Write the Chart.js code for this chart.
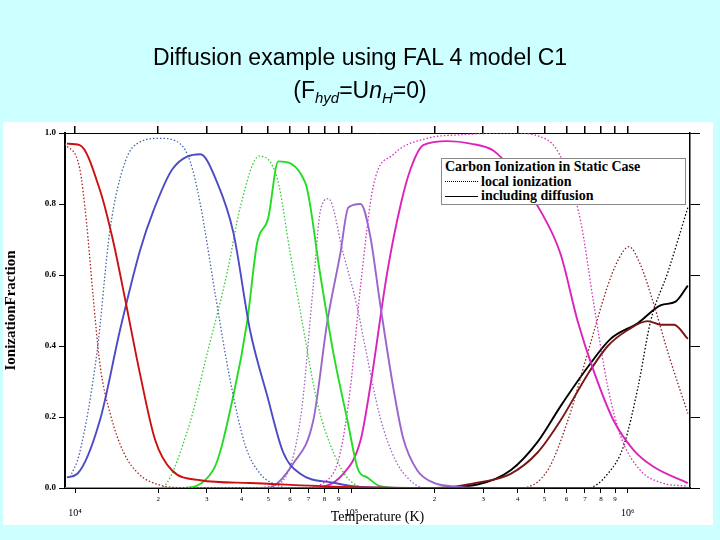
<!DOCTYPE html>
<html>
<head>
<meta charset="utf-8">
<script src="https://cdn.jsdelivr.net/npm/chart.js@4.4.0/dist/chart.umd.min.js"></script>
<style>
  body { margin: 0; background: #ccffff; }
  #wrap { position: relative; width: 720px; height: 540px; overflow: hidden; }
  canvas { position: absolute; left: 0; top: 0; }
  #title { position: absolute; left: 0; top: 41px; width: 720px; text-align: center;
    font-family: Arial, "Liberation Sans", sans-serif; font-size: 23px; line-height: 33px; color: #000; }
  #title sub { font-size: 15px; vertical-align: -5px; line-height: 0; }
  #legend { position: absolute; left: 441px; top: 158px; width: 245px; height: 47px;
    border: 1px solid #888; background: #fff; font-family: "Liberation Serif", serif;
    font-weight: bold; font-size: 14px; line-height: 14.5px; padding: 1px 3px; box-sizing: border-box; white-space: nowrap; }
  .row { display: flex; align-items: center; }
  .sw { width: 33px; margin-right: 3px; height: 0; }
  .dot { border-top: 1.5px dotted #000; }
  .sol { border-top: 1.5px solid #000; }
</style>
</head>
<body>
<div id="wrap">
  <canvas id="c" width="720" height="540"></canvas>
  <div id="title">Diffusion example using FAL 4 model C1<br>(F<sub><i>hyd</i></sub>=U<i>n</i><sub><i>H</i></sub>=0)</div>
  <div id="legend">
    <div>Carbon Ionization in Static Case</div>
    <div class="row"><span class="sw dot"></span>local ionization</div>
    <div class="row"><span class="sw sol"></span>including diffusion</div>
  </div>
</div>
<script>
// temperatures (K) and ionization fractions
const c1LocalT = [9200, 10400, 11000, 11600, 12300, 13400, 15000, 17000, 20300, 25000, 1680000];
const c1LocalY = [0.97, 0.90, 0.75, 0.55, 0.35, 0.21, 0.10, 0.04, 0.008, 0.001, 0];
const c1DiffT = [9350, 10400, 12300, 13700, 15200, 17200, 19500, 22400, 28400, 43100, 94000, 200000, 1680000];
const c1DiffY = [0.97, 0.966, 0.84, 0.70, 0.53, 0.32, 0.135, 0.05, 0.022, 0.014, 0.003, 0, 0];

const c2LocalT = [9600, 10400, 12000, 13400, 15200, 17200, 20300, 24000, 26100, 28400, 32100, 36500, 41300, 46800, 53100, 60000, 1680000];
const c2LocalY = [0.03, 0.10, 0.38, 0.73, 0.92, 0.975, 0.985, 0.97, 0.92, 0.80, 0.55, 0.30, 0.12, 0.04, 0.01, 0, 0];
const c2DiffT = [9350, 10200, 12300, 14600, 17200, 19200, 22600, 28400, 32700, 37400, 43100, 49600, 56700, 65300, 86100, 108000, 200000, 1680000];
const c2DiffY = [0.03, 0.04, 0.19, 0.45, 0.67, 0.78, 0.90, 0.94, 0.86, 0.72, 0.44, 0.26, 0.10, 0.04, 0.015, 0.003, 0, 0];

const c3LocalT = [9200, 20300, 25500, 30100, 35600, 39600, 46400, 54000, 60100, 67000, 75300, 86100, 99100, 120000, 1680000];
const c3LocalY = [0, 0, 0.16, 0.38, 0.61, 0.79, 0.935, 0.87, 0.66, 0.45, 0.24, 0.10, 0.02, 0, 0];
const c3DiffT = [9200, 24000, 31600, 37400, 42000, 45600, 50000, 54400, 68100, 77200, 86100, 96800, 106000, 114000, 127000, 150000, 1680000];
const c3DiffY = [0, 0, 0.05, 0.26, 0.47, 0.69, 0.76, 0.92, 0.86, 0.60, 0.38, 0.19, 0.05, 0.03, 0.005, 0, 0];

const c4LocalT = [9200, 40000, 54000, 65300, 72800, 77200, 82600, 93500, 105000, 112000, 127000, 144000, 164000, 185000, 1680000];
const c4LocalY = [0, 0, 0.01, 0.19, 0.57, 0.78, 0.815, 0.66, 0.51, 0.40, 0.20, 0.08, 0.02, 0, 0];
const c4DiffT = [9200, 49600, 61700, 72800, 81900, 91200, 97500, 108000, 117000, 127000, 142000, 154000, 173000, 198000, 229000, 300000, 1680000];
const c4DiffY = [0, 0, 0.07, 0.19, 0.47, 0.66, 0.79, 0.80, 0.71, 0.52, 0.28, 0.14, 0.05, 0.015, 0.005, 0, 0];

const c5LocalT = [9200, 65000, 83900, 91200, 99100, 108000, 120000, 142000, 188000, 248000, 377000, 513000, 586000, 676000, 753000, 847000, 944000, 1110000, 1320000, 1650000];
const c5LocalY = [0, 0, 0.03, 0.10, 0.28, 0.57, 0.85, 0.94, 0.985, 0.995, 1.0, 0.98, 0.915, 0.75, 0.52, 0.285, 0.145, 0.05, 0.015, 0.005];
const c5DiffT = [9200, 70000, 93500, 108000, 117000, 135000, 151000, 164000, 182000, 223000, 270000, 327000, 387000, 484000, 571000, 659000, 753000, 889000, 1050000, 1240000, 1650000];
const c5DiffY = [0, 0, 0.04, 0.135, 0.285, 0.61, 0.80, 0.90, 0.966, 0.977, 0.97, 0.95, 0.89, 0.78, 0.66, 0.47, 0.33, 0.19, 0.107, 0.06, 0.014];

const c6LocalT = [9200, 409000, 513000, 607000, 716000, 847000, 920000, 1010000, 1110000, 1240000, 1400000, 1650000];
const c6LocalY = [0, 0, 0.05, 0.19, 0.38, 0.57, 0.64, 0.68, 0.63, 0.52, 0.38, 0.21];
const c6DiffT = [9200, 205000, 286000, 377000, 472000, 571000, 716000, 847000, 1000000, 1180000, 1320000, 1470000, 1650000];
const c6DiffY = [0, 0, 0.015, 0.04, 0.10, 0.19, 0.32, 0.40, 0.445, 0.47, 0.46, 0.46, 0.42];

const c7LocalT = [9200, 716000, 847000, 968000, 1090000, 1210000, 1400000, 1650000];
const c7LocalY = [0, 0, 0.04, 0.12, 0.285, 0.47, 0.61, 0.79];
const c7DiffT = [9200, 188000, 286000, 377000, 472000, 571000, 716000, 867000, 1090000, 1320000, 1490000, 1650000];
const c7DiffY = [0, 0, 0.01, 0.05, 0.13, 0.23, 0.34, 0.42, 0.465, 0.515, 0.525, 0.57];

const yTicks = [0, 0.2, 0.4, 0.6, 0.8, 1.0];
const decades = [1e4, 1e5, 1e6];
const mantissas = [1, 2, 3, 4, 5, 6, 7, 8, 9];

const pts = (t, y) => t.map((v, i) => ({ x: v, y: y[i] }));
const local = (t, y, color) => ({ data: pts(t, y), borderColor: color, borderWidth: 1.3, borderDash: [1.5, 2] });
const diff = (t, y, color) => ({ data: pts(t, y), borderColor: color, borderWidth: 1.9 });

const xTickValues = [];
decades.forEach(d => mantissas.forEach(m => xTickValues.push(m * d)));

const bg = {
  id: 'bg',
  beforeDraw(chart) {
    const ctx = chart.ctx;
    ctx.save();
    ctx.fillStyle = '#ccffff';
    ctx.fillRect(0, 0, 720, 540);
    ctx.fillStyle = '#fff';
    ctx.fillRect(3, 122, 710, 403);
    ctx.restore();
  }
};

const setTicks = axis => {
  axis.ticks = xTickValues.filter(v => v >= axis.min && v <= axis.max).map(v => ({ value: v }));
};
const isMajor = v => Math.abs(Math.log10(v) - Math.round(Math.log10(v))) < 1e-6;
const sup = { 4: '⁴', 5: '⁵', 6: '⁶' };

new Chart(document.getElementById('c'), {
  type: 'line',
  data: {
    datasets: [
      local(c1LocalT, c1LocalY, '#b02020'), diff(c1DiffT, c1DiffY, '#cc1010'),
      local(c2LocalT, c2LocalY, '#4466aa'), diff(c2DiffT, c2DiffY, '#4b4bc8'),
      local(c3LocalT, c3LocalY, '#33cc33'), diff(c3DiffT, c3DiffY, '#22dd22'),
      local(c4LocalT, c4LocalY, '#9966bb'), diff(c4DiffT, c4DiffY, '#9966cc'),
      local(c5LocalT, c5LocalY, '#cc33bb'), diff(c5DiffT, c5DiffY, '#dd22bb'),
      local(c6LocalT, c6LocalY, '#882222'), diff(c6DiffT, c6DiffY, '#7a1515'),
      local(c7LocalT, c7LocalY, '#000'), diff(c7DiffT, c7DiffY, '#000')
    ]
  },
  options: {
    responsive: false,
    animation: false,
    parsing: false,
    elements: { point: { radius: 0 }, line: { cubicInterpolationMode: 'monotone', fill: false } },
    plugins: { legend: { display: false }, tooltip: { enabled: false } },
    layout: { padding: 0 },
    scales: {
      x: {
        type: 'logarithmic', min: 9200, max: 1680000, position: 'bottom',
        afterBuildTicks: setTicks,
        afterFit: s => { s.height = 52; },
        border: { color: '#000', width: 2 },
        grid: { drawOnChartArea: false, tickLength: 5, color: '#000' },
        ticks: {
          autoSkip: false, maxRotation: 0, padding: 2, color: '#000',
          font: c => ({ family: 'Liberation Serif', size: c.tick && isMajor(c.tick.value) ? 10 : 7 }),
          callback: v => {
            if (isMajor(v)) return ['', '10' + sup[Math.round(Math.log10(v))]];
            return String(Math.round(v / Math.pow(10, Math.floor(Math.log10(v) + 1e-9))));
          }
        },
        title: { display: true, text: 'Temperature (K)', color: '#000', padding: { top: 0, bottom: 14 },
          font: { family: 'Liberation Serif', size: 14 } }
      },
      xTop: {
        type: 'logarithmic', min: 9200, max: 1680000, position: 'top',
        afterBuildTicks: setTicks,
        afterFit: s => { s.height = 133; },
        border: { color: '#000', width: 1 },
        grid: { drawOnChartArea: false, tickLength: 7, color: '#000', lineWidth: 1.5 },
        ticks: { display: false }
      },
      y: {
        min: 0, max: 1, position: 'left',
        afterBuildTicks: axis => { axis.ticks = yTicks.map(v => ({ value: v })); },
        afterFit: s => { s.width = 65; },
        border: { color: '#000', width: 2 },
        grid: { drawOnChartArea: false, tickLength: 6, color: '#000' },
        ticks: { color: '#000', padding: 3, font: { family: 'Liberation Serif', size: 9, weight: 'bold' },
          callback: v => v.toFixed(1) },
        title: { display: true, text: 'IonizationFraction', color: '#000', padding: 2,
          font: { family: 'Liberation Serif', size: 15, weight: 'bold' } }
      },
      yRight: {
        min: 0, max: 1, position: 'right',
        afterBuildTicks: axis => { axis.ticks = yTicks.map(v => ({ value: v })); },
        afterFit: s => { s.width = 30; },
        border: { color: '#000', width: 1.5 },
        grid: { drawOnChartArea: false, tickLength: 10, color: '#000' },
        ticks: { display: false }
      }
    }
  },
  plugins: [bg]
});
</script>
</body>
</html>
